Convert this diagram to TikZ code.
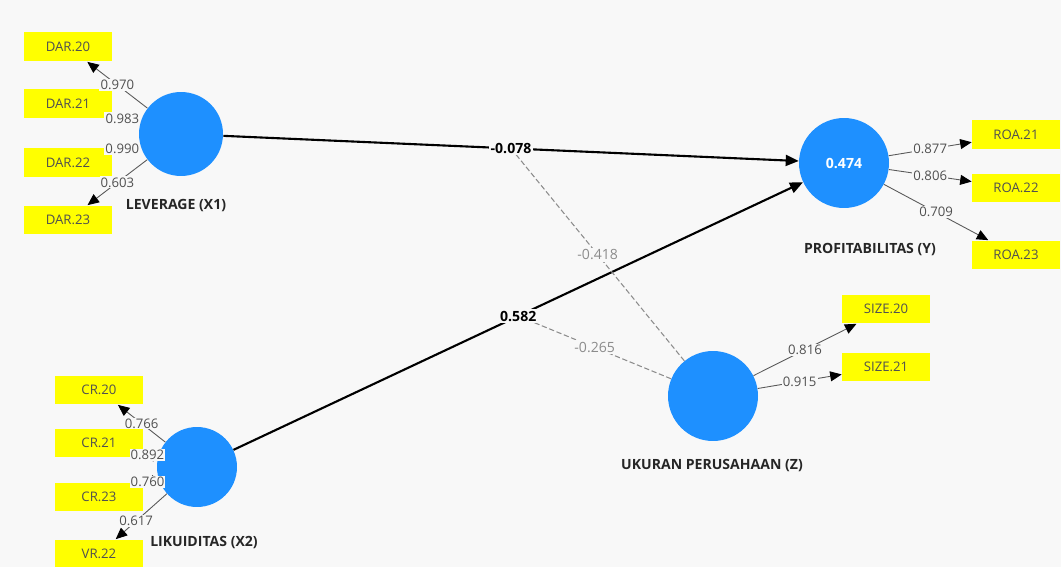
\documentclass[tikz,border=0pt]{standalone}
\usepackage{fontspec}
\setmainfont{Open Sans}
\usetikzlibrary{arrows.meta}
\definecolor{plsblue}{RGB}{30,144,255}
\definecolor{indyellow}{RGB}{255,255,0}
\definecolor{bggray}{RGB}{248,248,248}
\definecolor{numgray}{RGB}{80,80,80}
\definecolor{modgray}{RGB}{140,140,140}

\begin{document}
\begin{tikzpicture}[x=0.02cm,y=-0.02cm,
    latent/.style={circle,fill=plsblue,inner sep=0pt,text=white,font=\fontsize{8}{9}\selectfont\bfseries},
    indicator/.style={fill=indyellow,minimum width=1.76cm,minimum height=0.58cm,inner sep=0pt,
      font=\fontsize{7.5}{9}\selectfont,text=numgray},
    lvname/.style={font=\fontsize{8}{9}\selectfont\bfseries,text=black!85},
    load/.style={-{Triangle[length=2.3mm,width=2mm,color=black]},draw=black!65,line width=0.5pt},
    loadval/.style={fill=bggray,inner sep=0.6pt,font=\fontsize{7.5}{9}\selectfont,text=numgray},
    inner/.style={-{Triangle[length=2.6mm,width=2.2mm]},draw=black,line width=1.2pt},
    innerval/.style={fill=bggray,inner sep=1pt,font=\fontsize{8}{9}\selectfont\bfseries,text=black},
    modline/.style={draw=modgray,line width=0.6pt,dash pattern=on 3pt off 1.5pt},
    modval/.style={fill=bggray,inner sep=1pt,font=\fontsize{8}{9}\selectfont,text=modgray}]
  \useasboundingbox (0,0) rectangle (1061,567);
  \clip (0,0) rectangle (1061,567);
  \fill[bggray] (0,0) rectangle (1061,567);

  \node[latent,minimum size=1.68cm] (X1) at (181,134) {};
  \node[latent,minimum size=1.60cm] (X2) at (197,467) {};
  \node[latent,minimum size=1.80cm] (Y) at (844,163) {0.474};
  \node[latent,minimum size=1.80cm] (Z) at (713,396) {};

  \node[lvname] (X1name) at (176,206) {LEVERAGE (X1)};
  \node[lvname] (X2name) at (204,543) {LIKUIDITAS (X2)};
  \node[lvname] (Yname) at (870,250) {PROFITABILITAS (Y)};
  \node[lvname] (Zname) at (712,466) {UKURAN PERUSAHAAN (Z)};

  \node[indicator] (dar20) at (68,47) {DAR.20};
  \node[indicator] (dar21) at (68,104) {DAR.21};
  \node[indicator] (dar22) at (68,163) {DAR.22};
  \node[indicator] (dar23) at (68,220) {DAR.23};
  \node[indicator] (cr20) at (99,390) {CR.20};
  \node[indicator] (cr21) at (99,443) {CR.21};
  \node[indicator] (cr23) at (99,497) {CR.23};
  \node[indicator] (vr22) at (99,554) {VR.22};
  \node[indicator] (roa21) at (1016,135) {ROA.21};
  \node[indicator] (roa22) at (1016,188) {ROA.22};
  \node[indicator] (roa23) at (1016,255) {ROA.23};
  \node[indicator] (size20) at (886,309) {SIZE.20};
  \node[indicator] (size21) at (886,367) {SIZE.21};

  \draw[load] (X1) -- (dar20) node[loadval,pos=0.5] (l1) {0.970};
  \draw[load] (X1) -- (dar21) node[loadval,pos=0.64] (l2) {0.983};
  \draw[load] (X1) -- (dar22) node[loadval,pos=0.64] (l3) {0.990};
  \draw[load] (X1) -- (dar23) node[loadval,pos=0.5] (l4) {0.603};
  \draw[load] (X2) -- (cr20) node[loadval,pos=0.5] (l5) {0.766};
  \draw[load] (X2) -- (cr21) node[loadval,pos=0.72] (l6) {0.892};
  \draw[load] (X2) -- (cr23) node[loadval,pos=0.72] (l7) {0.760};
  \draw[load] (X2) -- (vr22) node[loadval,pos=0.6] (l8) {0.617};
  \draw[load] (Y) -- (roa21) node[loadval,pos=0.5] (l9) {0.877};
  \draw[load] (Y) -- (roa22) node[loadval,pos=0.5] (l10) {0.806};
  \draw[load] (Y) -- (roa23) node[loadval,pos=0.5] (l11) {0.709};
  \draw[load] (Z) -- (size20) node[loadval,pos=0.5] (l12) {0.816};
  \draw[load] (Z) -- (size21) node[loadval,pos=0.5] (l13) {0.915};

  \draw[inner] (X1) -- (Y) coordinate[pos=0.5] (m1);
  \draw[inner] (X2) -- (Y) coordinate[pos=0.5] (m2);
  \draw[modline] (Z) -- (m1) node[modval,pos=0.5] (p3) {-0.418};
  \draw[modline] (Z) -- (m2) node[modval,pos=0.5] (p4) {-0.265};
  \node[innerval] (p1) at (m1) {-0.078};
  \node[innerval] (p2) at (m2) {0.582};
\end{tikzpicture}
\end{document}
